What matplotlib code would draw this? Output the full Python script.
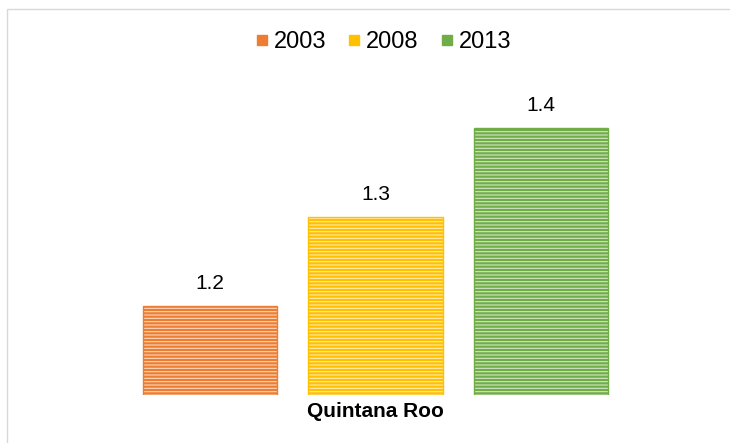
import matplotlib.pyplot as plt
from matplotlib.patches import Rectangle
from matplotlib.lines import Line2D
from matplotlib.colors import to_rgb

# Data
years = ['2003', '2008', '2013']
values = [1.2, 1.3, 1.4]
colors = ['#ED7D31', '#FFC000', '#70AD47']
region = 'Quintana Roo'

plt.rcParams['font.family'] = ['Liberation Sans', 'DejaVu Sans']
plt.rcParams['hatch.linewidth'] = 0.8


def tint(c, amount=0.7):
    r, g, b = to_rgb(c)
    return (r + (1 - r) * amount, g + (1 - g) * amount, b + (1 - b) * amount)


fig = plt.figure(figsize=(7.3, 4.43), dpi=100)
ax = fig.add_axes([0, 1 - 395 / 443, 1, 395 / 443])

pos = [0, 1, 2]
for x, v, c in zip(pos, values, colors):
    # striped fill: pale horizontal lines over the colour
    ax.bar(x, v - 1.1, bottom=1.1, width=0.81, color=c, edgecolor=tint(c),
           linewidth=0, hatch='-----')
    ax.bar(x, v - 1.1, bottom=1.1, width=0.81, fill=False, edgecolor=c,
           linewidth=1.0)
    ax.annotate(f'{v:.1f}', (x, v), xytext=(0, 9), textcoords='offset points',
                ha='center', va='bottom', fontsize=15)

ax.set_xlim(-1.269, 3.142)
ax.set_ylim(1.1, 1.5438)
ax.set_xticks([1])
ax.set_xticklabels([region], fontsize=15, fontweight='bold')
ax.tick_params(axis='x', length=0, pad=5)
ax.set_yticks([])
for s in ax.spines.values():
    s.set_visible(False)
ax.patch.set_alpha(0)

handles = [Line2D([], [], marker='s', linestyle='', markersize=7, color=c)
           for c in colors]
fig.legend(handles, years, loc='center', bbox_to_anchor=(383 / 730, 1 - 42 / 443),
           ncol=3, frameon=False, fontsize=17, handlelength=0.6,
           handletextpad=0.2, columnspacing=0.9)

# light frame around the chart area
fig.patches.append(Rectangle((7 / 730, -0.1), 1.2, 1 - 9 / 443 + 0.1,
                             transform=fig.transFigure, fill=False,
                             edgecolor='#d9d9d9', linewidth=1.0, zorder=-1))

fig.savefig('out.png', dpi=100)
